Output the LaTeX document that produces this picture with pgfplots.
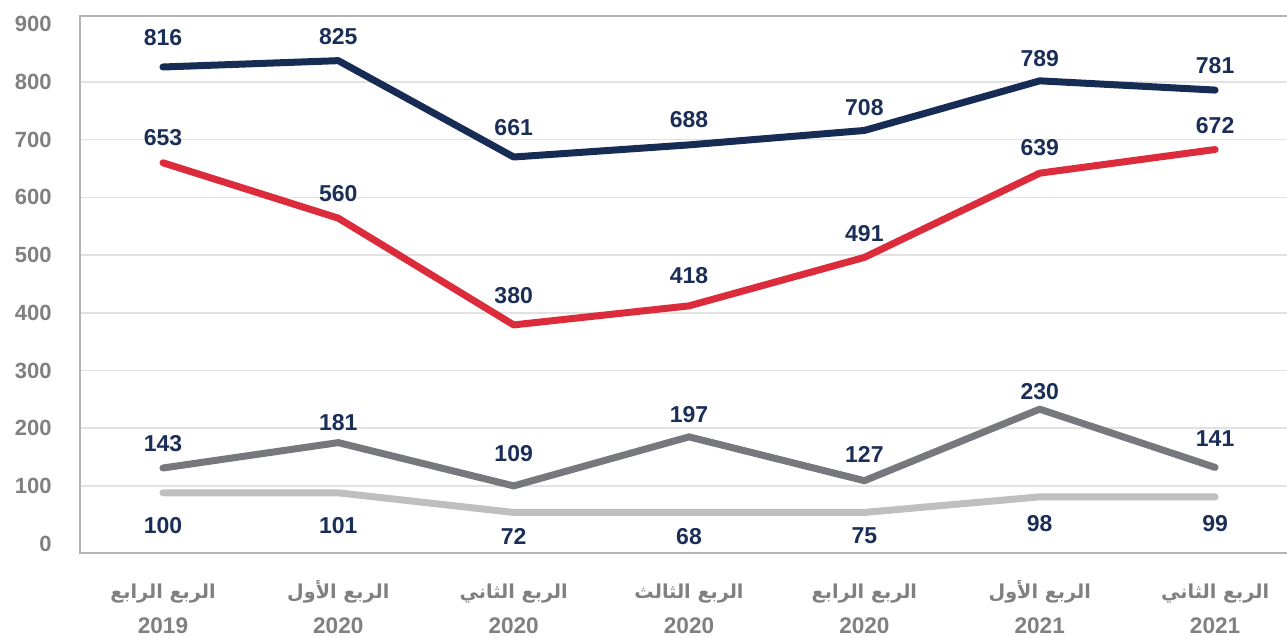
\documentclass[border=0pt]{standalone}
\usepackage{pgfplots}
\pgfplotsset{compat=1.18}
\usepackage{fontspec}
\setmainfont{Liberation Sans}
\newfontfamily\arabicfont[Script=Arabic]{DejaVu Sans}
\TeXXeTstate=1

\definecolor{navyline}{HTML}{172C54}
\definecolor{redline}{HTML}{DC2B3B}
\definecolor{grayline}{HTML}{77787B}
\definecolor{lightline}{HTML}{BFBFBF}
\definecolor{labelnavy}{HTML}{1A2E57}
\definecolor{tickgray}{HTML}{808080}
\definecolor{framegray}{HTML}{B4B4B4}
\definecolor{gridgray}{HTML}{E2E2E2}

\newcommand{\arf}{\rule[-4pt]{0pt}{13pt}\arabicfont\fontsize{9.6}{18}\selectfont\bfseries}

\begin{document}
\begin{tikzpicture}
\begin{axis}[
  scale only axis,
  width=603.5pt,
  height=268.5pt,
  xmin=-0.473, xmax=6.41,
  ymin=-16.3, ymax=914.4,
  axis line style={draw=none},
  major tick length=0pt,
  ytick={0,100,...,900},
  /pgf/number format/assume math mode=true,
  yticklabel style={font=\fontsize{11}{12}\selectfont\bfseries, text=tickgray,
    anchor=east, inner sep=0pt, xshift=-14pt},
  extra y ticks={100,200,...,800},
  extra y tick labels={},
  extra y tick style={ymajorgrids=true, major grid style={gridgray, line width=0.75pt}},
  xtick={0,...,6},
  xticklabels={
    {{\arf\beginR الربع الرابع\endR}\\2019},
    {{\arf\beginR الربع الأول\endR}\\2020},
    {{\arf\beginR الربع الثاني\endR}\\2020},
    {{\arf\beginR الربع الثالث\endR}\\2020},
    {{\arf\beginR الربع الرابع\endR}\\2020},
    {{\arf\beginR الربع الأول\endR}\\2021},
    {{\arf\beginR الربع الثاني\endR}\\2021}},
  xticklabel style={font=\fontsize{11.3}{17.5}\selectfont\bfseries, text=tickgray,
    align=center, anchor=north, inner sep=0pt, yshift=-13.5pt},
  clip=false,
  every axis plot/.append style={line width=3.5pt, line cap=round, line join=round},
  nodes near coords style={font=\fontsize{11.5}{12}\selectfont\bfseries, text=labelnavy, anchor=center},
]
% lines
\addplot[navyline] coordinates {(0,826) (1,837) (2,670) (3,691) (4,716) (5,802) (6,786)};
\addplot[redline] coordinates {(0,660) (1,564) (2,379) (3,412) (4,496) (5,642) (6,683)};
\addplot[grayline] coordinates {(0,131) (1,175) (2,100) (3,185) (4,109) (5,233) (6,132)};
\addplot[lightline] coordinates {(0,88) (1,88) (2,54) (3,54) (4,54) (5,81) (6,81)};
% value labels
\addplot[draw=none, nodes near coords, point meta=explicit symbolic] coordinates {
  (0,877.5)[816] (1,878.5)[825] (2,721.5)[661] (3,734)[688] (4,756)[708] (5,840)[789] (6,827.7)[781]};
\addplot[draw=none, nodes near coords, point meta=explicit symbolic] coordinates {
  (0,703.5)[653] (1,607)[560] (2,429)[380] (3,463.8)[418] (4,537.8)[491] (5,686.8)[639] (6,723.7)[672]};
\addplot[draw=none, nodes near coords, point meta=explicit symbolic] coordinates {
  (0,173.8)[143] (1,209.5)[181] (2,156.5)[109] (3,222.9)[197] (4,155.3)[127] (5,263.3)[230] (6,182.5)[141]};
\addplot[draw=none, nodes near coords, point meta=explicit symbolic] coordinates {
  (0,30.5)[100] (1,30.5)[101] (2,12)[72] (3,12)[68] (4,13.2)[75] (5,35.2)[98] (6,35.2)[99]};
\end{axis}
\draw[framegray, line width=1pt] (current axis.north east) -- (current axis.north west)
  -- (current axis.south west) -- (current axis.south east);
\coordinate (bl) at ([shift={(-40pt,-42.5pt)}]current axis.south west);
\coordinate (tr) at ([shift={(0pt,8pt)}]current axis.north east);
\pgfresetboundingbox
\path[use as bounding box] (bl) rectangle (tr);
\end{tikzpicture}
\end{document}
